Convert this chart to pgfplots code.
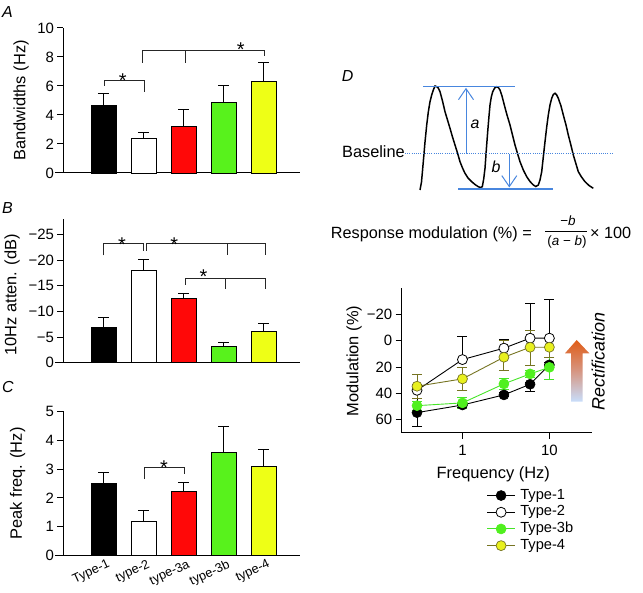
\documentclass[border=0pt]{standalone}
\usepackage{pgfplots}
\pgfplotsset{compat=1.18}
\usepackage{fontspec}
\setmainfont{Liberation Sans}
\usetikzlibrary{arrows.meta}
\definecolor{barred}{RGB}{255,8,8}
\definecolor{bargreen}{RGB}{88,242,28}
\definecolor{baryellow}{RGB}{238,255,22}
\definecolor{linegreen}{RGB}{70,228,40}
\definecolor{markgreen}{RGB}{80,240,30}
\definecolor{oliveline}{RGB}{118,116,34}
\definecolor{markyellow}{RGB}{232,240,30}
\definecolor{dblue}{RGB}{72,134,222}
\definecolor{arroworange}{RGB}{224,92,22}
\definecolor{arrowmid}{RGB}{214,150,130}
\definecolor{arrowblue}{RGB}{200,222,252}
\newcommand{\tickfont}{\fontsize{15}{18}\selectfont}
\newcommand{\labfont}{\fontsize{16.5}{19}\selectfont}

\pgfplotsset{
  /pgf/number format/assume math mode=true,
  barpanel/.style={
    scale only axis, width=236.5bp, height=145bp, anchor=center,
    axis x line*=bottom, axis y line*=left,
    axis line style={-, line width=1pt},
    x axis line style={shorten <=-8.5bp},
    xmin=0, xmax=5.9125, xtick=\empty,
    ybar, bar width=0.625,
    tick align=outside, major tick length=6bp,
    ytick style={black, line width=1pt},
    yticklabel style={font=\tickfont},
    clip=false,
  },
  bars/.style={draw=black, line width=0.8pt, bar shift=0pt,
    error bars/y explicit,
    error bars/error bar style={line width=0.9pt, black},
    error bars/error mark options={rotate=90, line width=0.9pt, black, mark size=5.5bp}},
}
\tikzset{
  br/.style={line width=0.8pt, black!85},
  star/.style={font=\fontsize{20}{22}\selectfont, anchor=base, inner sep=0pt},
}

\begin{document}
\begin{tikzpicture}
\path[use as bounding box] (0bp,0bp) rectangle (643bp,593bp);

% ---------------- Panel A ----------------
\begin{axis}[barpanel, at={(181.75bp,492.5bp)},
  ymin=0, ymax=10, ytick={0,2,4,6,8,10}]
\addplot[bars, fill=black, error bars/y dir=plus] coordinates {(1,4.67) +- (0,0.83)};
\addplot[bars, fill=white, error bars/y dir=plus] coordinates {(2,2.41) +- (0,0.37)};
\addplot[bars, fill=barred, error bars/y dir=plus] coordinates {(3,3.24) +- (0,1.17)};
\addplot[bars, fill=bargreen, error bars/y dir=plus] coordinates {(4,4.88) +- (0,1.17)};
\addplot[bars, fill=baryellow, error bars/y dir=plus] coordinates {(5,6.35) +- (0,1.29)};
\draw[br] (axis cs:1.02,6.0) -- (axis cs:1.02,6.41) -- (axis cs:2.01,6.41) -- (axis cs:2.01,5.6);
\draw[br] (axis cs:1.98,7.6) -- (axis cs:1.98,8.43) -- (axis cs:5.02,8.43) -- (axis cs:5.02,8.07);
\draw[br] (axis cs:3.04,8.43) -- (axis cs:3.04,7.6);
\node[star] at (axis cs:1.48,5.91) {*};
\node[star] at (axis cs:4.43,8.05) {*};
\end{axis}

% ---------------- Panel B ----------------
\begin{axis}[barpanel, y dir=reverse, at={(181.75bp,302bp)},
  height=143.4bp, ymin=-28, ymax=0, ytick={-25,-20,-15,-10,-5,0},
  yticklabels={−25,−20,−15,−10,−5,0}]
\addplot[bars, fill=black, error bars/y dir=minus] coordinates {(1,-6.89) +- (0,2.0)};
\addplot[bars, fill=white, error bars/y dir=minus] coordinates {(2,-17.98) +- (0,2.2)};
\addplot[bars, fill=barred, error bars/y dir=minus] coordinates {(3,-12.65) +- (0,0.95)};
\addplot[bars, fill=bargreen, error bars/y dir=minus] coordinates {(4,-3.25) +- (0,0.65)};
\addplot[bars, fill=baryellow, error bars/y dir=minus] coordinates {(5,-6.03) +- (0,1.63)};
\draw[br] (axis cs:1,-20.95) -- (axis cs:1,-23.2) -- (axis cs:2,-23.2) -- (axis cs:2,-21.9);
\draw[br] (axis cs:2.08,-21.9) -- (axis cs:2.08,-23.2) -- (axis cs:5.05,-23.2) -- (axis cs:5.05,-20.95);
\draw[br] (axis cs:4.1,-23.2) -- (axis cs:4.1,-20.95);
\draw[br] (axis cs:3.04,-15.25) -- (axis cs:3.04,-16.5) -- (axis cs:5.05,-16.5) -- (axis cs:5.05,-14.3);
\draw[br] (axis cs:4.05,-16.5) -- (axis cs:4.05,-14.3);
\node[star] at (axis cs:1.46,-21.8) {*};
\node[star] at (axis cs:2.77,-21.8) {*};
\node[star] at (axis cs:3.5,-15.5) {*};
\end{axis}

% ---------------- Panel C ----------------
\begin{axis}[barpanel, at={(181.75bp,109.5bp)},
  height=143.6bp, ymin=0, ymax=5, ytick={0,1,2,3,4,5},
  xtick={1,2,3,4,5}, xticklabels={Type-1,type-2,type-3a,type-3b,type-4},
  xtick style={draw=none},
  xticklabel style={font=\fontsize{12.8}{14}\selectfont, rotate=25, anchor=north east, inner sep=0pt, xshift=4bp, yshift=1bp}]
\addplot[bars, fill=black, error bars/y dir=plus] coordinates {(1,2.49) +- (0,0.38)};
\addplot[bars, fill=white, error bars/y dir=plus] coordinates {(2,1.19) +- (0,0.38)};
\addplot[bars, fill=barred, error bars/y dir=plus] coordinates {(3,2.24) +- (0,0.30)};
\addplot[bars, fill=bargreen, error bars/y dir=plus] coordinates {(4,3.57) +- (0,0.90)};
\addplot[bars, fill=baryellow, error bars/y dir=plus] coordinates {(5,3.09) +- (0,0.60)};
\draw[br] (axis cs:2.02,2.65) -- (axis cs:2.02,3.05) -- (axis cs:3.02,3.05) -- (axis cs:3.02,2.82);
\node[star] at (axis cs:2.51,2.80) {*};
\end{axis}

% y labels and panel letters
\node[rotate=90, font=\labfont] at (21bp,492.5bp) {Bandwidths (Hz)};
\node[rotate=90, font=\labfont] at (12bp,298bp) {10Hz atten. (dB)};
\node[rotate=90, font=\labfont] at (17.5bp,109.5bp) {Peak freq. (Hz)};
\node[anchor=base west, inner sep=0pt, font=\fontsize{16}{19}\selectfont\itshape] at (2bp,575bp) {A};
\node[anchor=base west, inner sep=0pt, font=\fontsize{16}{19}\selectfont\itshape] at (2bp,379.7bp) {B};
\node[anchor=base west, inner sep=0pt, font=\fontsize{16}{19}\selectfont\itshape] at (2bp,200bp) {C};
\node[anchor=base west, inner sep=0pt, font=\fontsize{16}{19}\selectfont\itshape] at (341.7bp,511.3bp) {D};

% ---------------- Panel D: trace illustration ----------------
\begin{axis}[scale only axis, width=220bp, height=130bp, anchor=center, at={(510bp,453bp)},
  xmin=400, xmax=620, ymin=75, ymax=205, y dir=reverse, axis lines=none, clip=false]
\addplot[black, line width=1.5pt, mark=none] coordinates {
 (420,190) (421.5,182) (423.3,161.7) (425,142) (426.7,125) (428.3,112) (430,101.7) (431.7,95)
 (433.3,90) (435,86) (436.7,86.7) (438.3,88) (440,91.7) (442.5,101) (445,111.7) (447.5,120)
 (450,128.3) (452.5,137) (455,145) (457.5,153) (460,161.7) (462.5,168) (465,173.3) (468,178)
 (471.7,181.7) (475,184.5) (478.3,186.7) (480.3,187.5) (482.3,186.7) (483.7,179) (485,168.3) (486.3,150)
 (487.7,131.7) (489,116) (490,105) (491.3,97) (492.7,91.7) (494.7,88) (496.7,86.7) (498.3,87.5)
 (500,90) (502,96) (504.3,105) (507,115) (510,125) (512.5,135) (515,145) (517.5,153.5)
 (520,161.7) (523.3,170) (526.7,176.7) (530,181.5) (533.3,185) (535.8,186.5) (538.3,185) (540,180)
 (541.7,171.7) (543.3,157) (545,141.7) (546.7,127) (548.3,115) (550,105) (551.7,98.3) (553.3,94.5)
 (555,93.3) (556.7,95) (558.3,98.3) (561,106) (563.3,115) (566,125) (568.3,135) (571,145.5)
 (573.3,155) (576,164) (578.3,171.7) (581.5,177) (585,181.7) (589,185.5) (593.3,188.3)};
\draw[dblue, line width=1.3pt] (axis cs:423.3,86.7) -- (axis cs:515,86.7);
\draw[dblue, line width=1.3pt] (axis cs:458.3,189) -- (axis cs:552.7,189);
\draw[dblue, line width=1bp, dash pattern=on 1bp off 1.2bp] (axis cs:405,154) -- (axis cs:613,154);
\draw[dblue, line width=1pt, -{Straight Barb[length=11bp, width=15bp, line width=1pt]}] (axis cs:466,154) -- (axis cs:466,87.8);
\draw[dblue, line width=1pt, -{Straight Barb[length=11bp, width=15bp, line width=1pt]}] (axis cs:509.3,154) -- (axis cs:509.3,187.5);
\node[anchor=base, inner sep=0pt, font=\fontsize{16}{19}\selectfont\itshape] at (axis cs:475,128.3) {a};
\node[anchor=base, inner sep=0pt, font=\fontsize{16}{19}\selectfont\itshape] at (axis cs:496,172.3) {b};
\node[anchor=base east, inner sep=0pt, font=\fontsize{16.4}{19}\selectfont] at (axis cs:405,157.3) {Baseline};
\end{axis}

% formula
\node[anchor=base east, inner sep=0pt, font=\fontsize{16.3}{19}\selectfont] at (532bp,354.7bp) {Response modulation (\%) =};
\draw[line width=0.8pt] (545bp,361.3bp) -- (587.3bp,361.3bp);
\node[anchor=base, inner sep=0pt, font=\fontsize{13.5}{16}\selectfont] at (568bp,367bp) {−\textit{b}};
\node[anchor=base, inner sep=0pt, font=\fontsize{13.5}{16}\selectfont] at (567bp,347.5bp) {(\textit{a} − \textit{b})};
\node[anchor=base west, inner sep=0pt, font=\fontsize{16.3}{19}\selectfont] at (590bp,354.7bp) {× 100};

% ---------------- Panel D: modulation vs frequency ----------------
\begin{axis}[scale only axis, width=190bp, height=144.4bp, anchor=center, at={(496.7bp,232.5bp)},
  xmode=log, xmin=0.2, xmax=30.7, y dir=reverse, ymin=-40, ymax=70,
  axis x line*=bottom, axis y line*=left,
  axis line style={-, line width=1pt},
  xtick={1,10}, xticklabels={1,10}, xminorticks=false,
  xticklabel style={yshift=-3bp},
  ytick={-20,0,20,40,60}, yticklabels={−20,0,20,40,60},
  tick align=outside, major tick length=6bp, tick style={black, line width=1pt},
  ticklabel style={font=\tickfont},
  clip=false,
  legend cell align=left,
  legend style={draw=none, fill=none, at={(0.446,-0.385)}, anchor=north west,
    font=\fontsize{14.7}{16}\selectfont, inner sep=0pt, row sep=2.6bp,
    nodes={inner sep=0.3bp, text height=10.5bp, text depth=3bp},
    /tikz/every odd column/.append style={column sep=4.5bp}},
  legend image code/.code={\draw[mark repeat=2, mark phase=2] plot coordinates {(0bp,0bp) (14bp,0bp) (28bp,0bp)};},
]
\addplot[black, line width=0.9pt, mark=*, mark size=5bp, mark options={fill=black, draw=black, line width=0.6pt},
  error bars/y dir=both, error bars/y explicit,
  error bars/error bar style={line width=0.9pt, black},
  error bars/error mark options={rotate=90, line width=0.9pt, black, mark size=5bp}]
  coordinates {(0.3,54.7) +- (0,10.5) (1,48.9) +- (0,1.5) (3,41.2) +- (0,1.5) (6,33.1) += (0,5.6) -= (0,1.5) (10,18.3) +- (0,1.5)};
\addlegendentry{Type-1}
\addplot[black, line width=0.9pt, mark=*, mark size=5bp, mark options={fill=white, draw=black, line width=0.8pt},
  error bars/y dir=minus, error bars/y explicit,
  error bars/error bar style={line width=0.9pt, black},
  error bars/error mark options={rotate=90, line width=0.9pt, black, mark size=5bp}]
  coordinates {(0.3,37.7) +- (0,4.3) (1,14.3) +- (0,17.6) (3,5.6) +- (0,6.3) (6,-2) +- (0,26.7) (10,-2) +- (0,29.5)};
\addlegendentry{Type-2}
\addplot[linegreen, line width=0.9pt, mark=*, mark size=5bp, mark options={fill=markgreen, draw=markgreen, line width=0.6pt},
  error bars/y dir=both, error bars/y explicit,
  error bars/error bar style={line width=0.9pt, linegreen},
  error bars/error mark options={rotate=90, line width=0.9pt, linegreen, mark size=5bp}]
  coordinates {(0.3,49.4) +- (0,3.5) (1,47.3) +- (0,4.1) (3,32.8) +- (0,4) (6,25.2) +- (0,3) (10,20.2) += (0,9.3) -= (0,7.7)};
\addlegendentry{Type-3b}
\addplot[oliveline, line width=0.9pt, mark=*, mark size=5bp, mark options={fill=markyellow, draw=oliveline, line width=0.7pt},
  error bars/y dir=both, error bars/y explicit,
  error bars/error bar style={line width=0.9pt, oliveline},
  error bars/error mark options={rotate=90, line width=0.9pt, oliveline, mark size=5bp}]
  coordinates {(0.3,34.6) += (0,9.2) -= (0,8.9) (1,29.0) +- (0,8.7) (3,12.5) += (0,10) -= (0,12.5) (6,4.9) += (0,14) -= (0,12.8) (10,4.9) += (0,7.6) -= (0,0)};
\addlegendentry{Type-4}
\end{axis}

\node[rotate=90, font=\labfont] at (354bp,232bp) {Modulation (\%)};
\node[font=\labfont] at (493.3bp,118.5bp) {Frequency (Hz)};

% rectification arrow
\shade[top color=arroworange, bottom color=arrowblue, middle color=arrowmid]
  (571bp,191.3bp) -- (571bp,239.7bp) -- (565bp,239.7bp) -- (576.7bp,253bp) -- (589.3bp,239.7bp)
  -- (582.7bp,239.7bp) -- (582.7bp,191.3bp) -- cycle;
\node[rotate=90, font=\fontsize{18}{21}\selectfont\itshape] at (598.3bp,231.3bp) {Rectification};
\end{tikzpicture}
\end{document}
